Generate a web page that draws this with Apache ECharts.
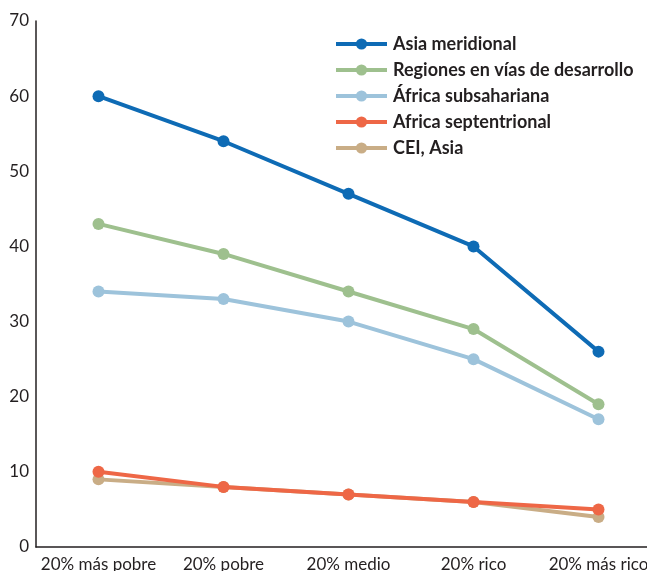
<!DOCTYPE html>
<html><head><meta charset="utf-8">
<script src="https://cdn.jsdelivr.net/npm/echarts@6/dist/echarts.min.js"></script>
<style>html,body{margin:0;padding:0;background:#fff}#c{width:647px;height:571px}</style>
</head><body><div id="c"></div>
<script>
const categories = ['20% más pobre','20% pobre','20% medio','20% rico','20% más rico'];
const seriesNames = ['Asia meridional','Regiones en vías de desarrollo','África subsahariana','Africa septentrional','CEI, Asia'];
const asiaMeridional = [60, 54, 47, 40, 26];
const regionesDesarrollo = [43, 39, 34, 29, 19];
const africaSubsahariana = [34, 33, 30, 25, 17];
const africaSeptentrional = [10, 8, 7, 6, 5];
const ceiAsia = [9, 8, 7, 6, 4];
const yTicks = [0, 10, 20, 30, 40, 50, 60, 70];

const colors = ['#0E6BB5', '#9EC08E', '#9DC3DB', '#EE6746', '#C9AD86'];
const values = [asiaMeridional, regionesDesarrollo, africaSubsahariana, africaSeptentrional, ceiAsia];
const zs = [5, 4, 3, 6, 2];
const font = 'Lato, "Noto Sans", sans-serif';

const chart = echarts.init(document.getElementById('c'));
chart.setOption({
  animation: false,
  grid: {left: 36, top: 21, right: -14, bottom: 24, containLabel: false, outerBoundsMode: 'none'},
  legend: {
    orient: 'vertical', left: 329, top: 30,
    itemWidth: 51, itemHeight: 14, itemGap: 8,
    data: seriesNames,
    lineStyle: {width: 4},
    textStyle: {fontFamily: font, fontWeight: 'bold', fontSize: 18, color: '#231F20', padding: [0,0,0,1]}
  },
  xAxis: {
    type: 'category', data: categories, boundaryGap: true,
    axisLine: {lineStyle: {color: '#231F20', width: 1.5}},
    axisTick: {show: false},
    axisLabel: {fontFamily: font, fontSize: 17, color: '#231F20', margin: 9, interval: 0}
  },
  yAxis: {
    type: 'value', min: 0, max: 70, interval: 10,
    axisLine: {show: true, lineStyle: {color: '#231F20', width: 1.5}},
    axisTick: {show: false},
    splitLine: {show: false},
    axisLabel: {fontFamily: font, fontSize: 17, color: '#231F20', margin: 7,
      formatter: v => yTicks.includes(v) ? String(v) : ''}
  },
  series: seriesNames.map((n, i) => ({
    name: n, type: 'line', data: values[i], z: zs[i],
    symbol: 'circle', symbolSize: 12,
    lineStyle: {width: 4, color: colors[i]},
    itemStyle: {color: colors[i]}
  }))
});
</script></body></html>
